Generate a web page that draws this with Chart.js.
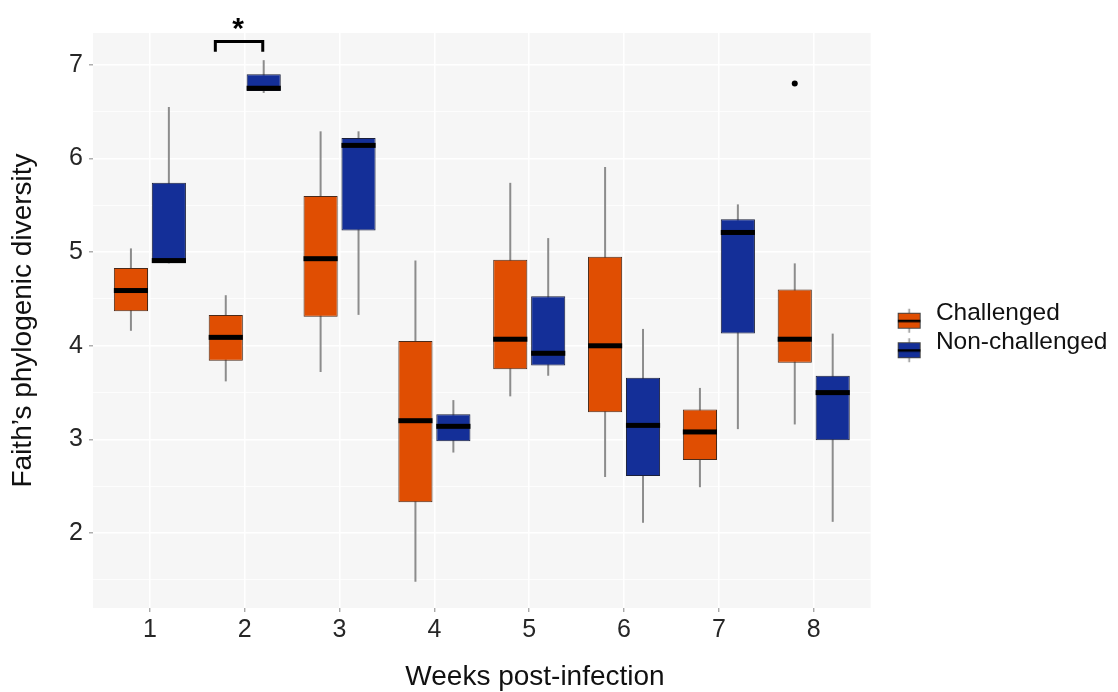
<!DOCTYPE html>
<html>
<head>
<meta charset="utf-8">
<script src="https://cdn.jsdelivr.net/npm/chart.js@4.4.0/dist/chart.umd.min.js"></script>
<style>
  html, body { margin: 0; padding: 0; background: #ffffff; }
</style>
</head>
<body>
<canvas id="boxChart" width="1118" height="692"></canvas>
<script>
  // weeks post-infection
  const weeks = [1, 2, 3, 4, 5, 6, 7, 8];
  const yTicks = [1.5, 2, 2.5, 3, 3.5, 4, 4.5, 5, 5.5, 6, 6.5, 7];

  // Challenged: whisker low, q1, median, q3, whisker high
  const chLow  = [4.16, 3.62, 3.72, 1.48, 3.46, 2.60, 2.49, 3.16];
  const chQ1   = [4.37, 3.84, 4.31, 2.33, 3.75, 3.29, 2.78, 3.82];
  const chMed  = [4.59, 4.09, 4.93, 3.20, 4.07, 4.00, 3.08, 4.07];
  const chQ3   = [4.83, 4.33, 5.60, 4.05, 4.92, 4.95, 3.32, 4.60];
  const chHigh = [5.04, 4.54, 6.29, 4.91, 5.74, 5.91, 3.55, 4.88];
  const chOut  = [null, null, null, null, null, null, null, 6.80];

  // Non-challenged
  const ncLow  = [4.88, 6.70, 4.33, 2.86, 3.68, 2.11, 3.11, 2.12];
  const ncQ1   = [4.88, 6.72, 5.23, 2.98, 3.79, 2.61, 4.13, 2.99];
  const ncMed  = [4.91, 6.75, 6.14, 3.14, 3.92, 3.15, 5.21, 3.50];
  const ncQ3   = [5.74, 6.90, 6.22, 3.27, 4.53, 3.66, 5.35, 3.68];
  const ncHigh = [6.55, 7.05, 6.29, 3.42, 5.15, 4.18, 5.51, 4.13];
  const ncOut  = [null, null, null, null, null, null, null, null];

  // significance bracket at week 2
  const bracketX = [1.69, 2.19];
  const bracketY = [7.14, 7.25];
  const starPos = [1.93, 7.29];

  const ORANGE = '#e04e02';
  const BLUE = '#142f98';
  const FONT = '"Liberation Sans", Arial, Helvetica, sans-serif';

  const stats = [
    { low: chLow, med: chMed, high: chHigh, out: chOut },
    { low: ncLow, med: ncMed, high: ncHigh, out: ncOut }
  ];

  function legendKey(color) {
    const c = document.createElement('canvas');
    c.width = 48; c.height = 44;
    const g = c.getContext('2d');
    g.strokeStyle = '#8c8c8c';
    g.lineWidth = 1.5;
    g.beginPath();
    g.moveTo(33.5, 18); g.lineTo(33.5, 42);
    g.stroke();
    g.fillStyle = color;
    g.fillRect(22, 22, 23, 16);
    g.strokeStyle = '#444';
    g.lineWidth = 1;
    g.strokeRect(22.5, 22.5, 22, 15);
    g.fillStyle = '#000';
    g.fillRect(22, 29, 23, 2.5);
    return c;
  }
  const legendKeys = [legendKey(ORANGE), legendKey(BLUE)];

  const boxPlotPlugin = {
    id: 'boxPlot',
    beforeDraw(chart) {
      const { ctx, chartArea: a } = chart;
      ctx.save();
      ctx.fillStyle = '#f6f6f6';
      ctx.fillRect(a.left, a.top, a.right - a.left, a.bottom - a.top);
      ctx.restore();
    },
    beforeDatasetsDraw(chart) {
      const { ctx } = chart;
      const y = chart.scales.y;
      ctx.save();
      ctx.strokeStyle = '#8c8c8c';
      ctx.lineWidth = 2;
      stats.forEach((s, d) => {
        chart.getDatasetMeta(d).data.forEach((bar, i) => {
          ctx.beginPath();
          ctx.moveTo(bar.x, y.getPixelForValue(s.low[i]));
          ctx.lineTo(bar.x, y.getPixelForValue(s.high[i]));
          ctx.stroke();
        });
      });
      ctx.restore();
    },
    afterDatasetsDraw(chart) {
      const { ctx } = chart;
      const x = chart.scales.x, y = chart.scales.y;
      ctx.save();
      // medians and outliers
      stats.forEach((s, d) => {
        chart.getDatasetMeta(d).data.forEach((bar, i) => {
          const py = y.getPixelForValue(s.med[i]);
          ctx.fillStyle = '#000';
          ctx.fillRect(bar.x - bar.width / 2, py - 2.5, bar.width, 5);
          if (s.out[i] != null) {
            ctx.beginPath();
            ctx.arc(bar.x, y.getPixelForValue(s.out[i]), 3, 0, Math.PI * 2);
            ctx.fill();
          }
        });
      });
      // bracket + star
      const bx0 = x.getPixelForValue(bracketX[0]), bx1 = x.getPixelForValue(bracketX[1]);
      const by0 = y.getPixelForValue(bracketY[0]), by1 = y.getPixelForValue(bracketY[1]);
      ctx.strokeStyle = '#000';
      ctx.lineWidth = 3;
      ctx.beginPath();
      ctx.moveTo(bx0, by0); ctx.lineTo(bx0, by1); ctx.lineTo(bx1, by1); ctx.lineTo(bx1, by0);
      ctx.stroke();
      ctx.fillStyle = '#000';
      ctx.font = 'bold 30px ' + FONT;
      ctx.textAlign = 'center';
      ctx.textBaseline = 'alphabetic';
      ctx.fillText('*', x.getPixelForValue(starPos[0]), y.getPixelForValue(starPos[1]));
      // x axis title
      ctx.font = '28px ' + FONT;
      ctx.fillStyle = '#111';
      ctx.fillText('Weeks post-infection', 535, 685);
      ctx.restore();
    }
  };

  new Chart(document.getElementById('boxChart'), {
    type: 'bar',
    data: {
      datasets: [{
        label: 'Challenged',
        data: weeks.map((w, i) => ({ x: w, y: [chQ1[i], chQ3[i]] })),
        backgroundColor: ORANGE,
        borderColor: '#4a2a1a',
        borderWidth: 1,
        borderSkipped: false
      }, {
        label: 'Non-challenged',
        data: weeks.map((w, i) => ({ x: w, y: [ncQ1[i], ncQ3[i]] })),
        backgroundColor: BLUE,
        borderColor: '#1a1f3a',
        borderWidth: 1,
        borderSkipped: false
      }]
    },
    options: {
      responsive: false,
      animation: false,
      categoryPercentage: 0.8,
      barPercentage: 0.9,
      layout: { padding: { top: 33, right: 0.5, bottom: 0, left: 0 } },
      plugins: {
        tooltip: { enabled: false },
        legend: {
          position: 'right',
          align: 'center',
          fullSize: false,
          title: { display: true, text: ' ', font: { size: 10 }, padding: 1 },
          labels: {
            usePointStyle: true,
            pointStyleWidth: 48,
            padding: 5,
            color: '#111',
            font: { family: FONT, size: 24.5 },
            generateLabels: chart => chart.data.datasets.map((ds, i) => ({
              text: ds.label,
              datasetIndex: i,
              pointStyle: legendKeys[i],
              fillStyle: ds.backgroundColor,
              strokeStyle: 'rgba(0,0,0,0)',
              lineWidth: 0,
              hidden: false,
              fontColor: '#111'
            }))
          }
        }
      },
      scales: {
        x: {
          type: 'linear',
          min: 0.4,
          max: 8.6,
          offset: false,
          afterBuildTicks: s => { s.ticks = weeks.map(v => ({ value: v })); },
          afterFit: s => { s.height = 84; },
          border: { display: false },
          grid: { offset: false, color: '#ffffff', lineWidth: 1.5, tickColor: '#9a9a9a', tickLength: 4, tickWidth: 1.2 },
          ticks: { color: '#262626', font: { family: FONT, size: 25 }, padding: 3, autoSkip: false, maxRotation: 0 }
        },
        y: {
          min: 1.2,
          max: 7.34,
          afterBuildTicks: s => { s.ticks = yTicks.map(v => ({ value: v })); },
          afterFit: s => { s.width = 93; },
          border: { display: false },
          grid: {
            color: '#ffffff',
            lineWidth: c => Number.isInteger(c.tick.value) ? 1.6 : 0.8,
            tickColor: c => Number.isInteger(c.tick.value) ? '#9a9a9a' : 'rgba(0,0,0,0)',
            tickLength: 4,
            tickWidth: 1.2
          },
          ticks: {
            color: '#262626',
            font: { family: FONT, size: 25 },
            padding: 6,
            autoSkip: false,
            callback: v => Number.isInteger(v) ? v : ''
          },
          title: {
            display: true,
            text: 'Faith’s phylogenic diversity',
            color: '#111',
            font: { family: FONT, size: 28 },
            padding: { top: 6, bottom: 0 }
          }
        }
      }
    },
    plugins: [boxPlotPlugin]
  });
</script>
</body>
</html>
